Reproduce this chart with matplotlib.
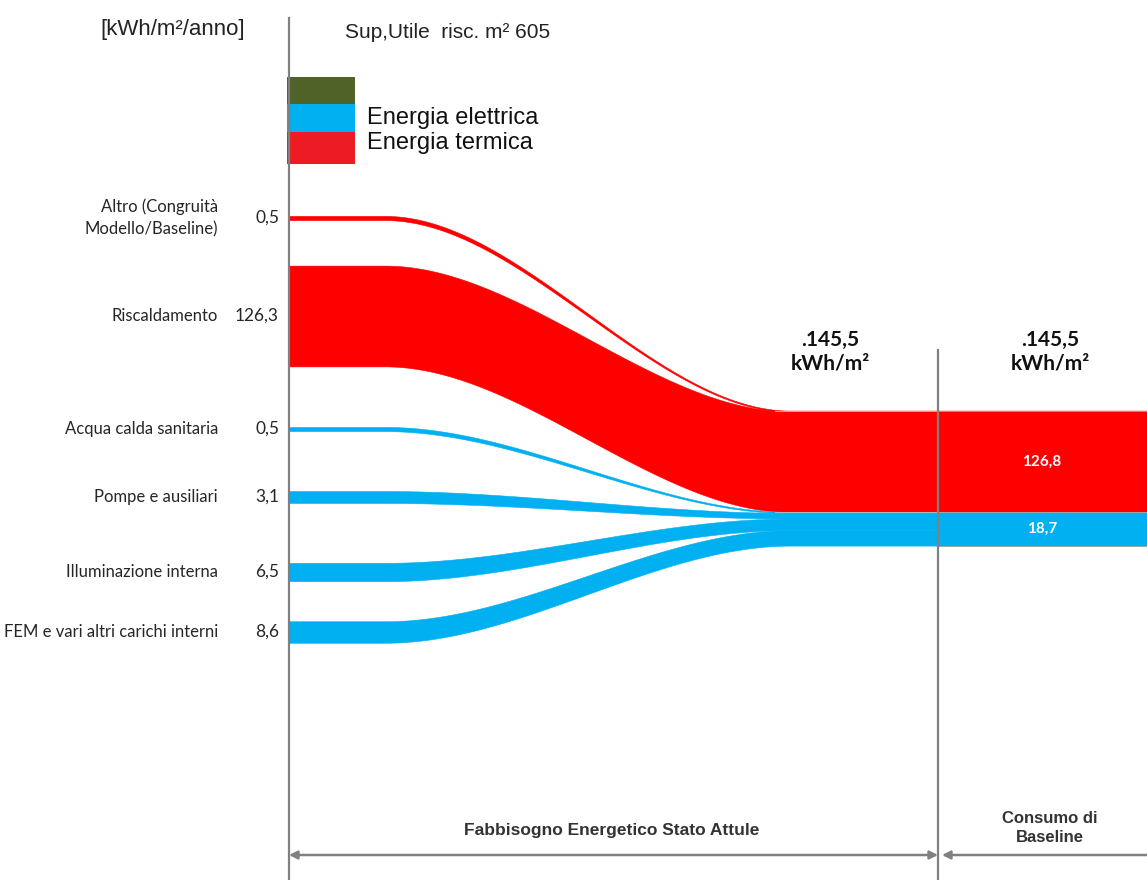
import numpy as np
import matplotlib.pyplot as plt
from matplotlib.patches import Rectangle

# ---- data ------------------------------------------------------------------
FLOW_LABELS = [
    "Altro (Congruità\nModello/Baseline)",
    "Riscaldamento",
    "Acqua calda sanitaria",
    "Pompe e ausiliari",
    "Illuminazione interna",
    "FEM e vari altri carichi interni",
]
FLOW_VALUES = [0.5, 126.3, 0.5, 3.1, 6.5, 8.6]
FLOW_CARRIER = ["termica", "termica", "elettrica", "elettrica", "elettrica", "elettrica"]

CARRIERS = ["termica", "elettrica"]
BASELINE_VALUES = [126.8, 18.7]

LEGEND_LABELS = ["", "Energia elettrica", "Energia termica"]

# ---- style / layout --------------------------------------------------------
RED = "#FF0000"
BLUE = "#00B0F0"
GREEN = "#4F6228"
LEG_RED = "#ED1C24"
GREY = "#808080"
CARRIER_COLOR = {"termica": RED, "elettrica": BLUE}

CAL = ["Lato", "DejaVu Sans"]          # stands in for Calibri
ARIAL = ["Liberation Sans", "DejaVu Sans"]
NARROW = ["Liberation Sans Narrow", "Liberation Sans", "DejaVu Sans"]

ROW_Y = [218, 316, 429, 497, 572, 632]   # row positions of the sources
X_AXIS, X_SPLIT, X_END = 289, 938, 1147
X_CURVE0, X_CURVE1 = 385, 790
BAND_TOP = 411


def fmt(v):
    return f"{v:.1f}".replace(".", ",")


def thick(v):
    # compressed band scale (the original chart is not proportional)
    return 101 * (v / max(BASELINE_VALUES)) ** 0.575


def main():
    fig = plt.figure(figsize=(11.47, 8.8), dpi=100)
    ax = fig.add_axes([0, 0, 1, 1])
    ax.set_xlim(0, 1147)
    ax.set_ylim(880, 0)
    ax.axis("off")

    # ---- flows -------------------------------------------------------------
    x = np.linspace(X_AXIS, X_END, 900)
    t = np.clip((x - X_CURVE0) / (X_CURVE1 - X_CURVE0), 0, 1)
    s = t * t * (3 - 2 * t)

    tops = {}
    top = BAND_TOP
    for c, bv in zip(CARRIERS, BASELINE_VALUES):
        tops[c] = top
        top += thick(bv)

    for c, bv in zip(CARRIERS, BASELINE_VALUES):
        members = [i for i, fc in enumerate(FLOW_CARRIER) if fc == c]
        total = sum(FLOW_VALUES[i] for i in members)
        gthick = thick(bv)
        cum = tops[c]
        for i in members:
            v = FLOW_VALUES[i]
            share = v / total * gthick
            y1 = cum + share / 2
            cum += share
            w0, w1 = thick(v), max(share, 1.2)
            yc = ROW_Y[i] + (y1 - ROW_Y[i]) * s
            w = w0 + (w1 - w0) * s
            ax.fill_between(x, yc - w / 2, yc + w / 2, color=CARRIER_COLOR[c],
                            lw=0.4, zorder=2)

    # ---- baseline column ---------------------------------------------------
    for c, bv in zip(CARRIERS, BASELINE_VALUES):
        h = thick(bv)
        ax.bar((X_SPLIT + X_END) / 2, h, bottom=tops[c], width=X_END - X_SPLIT,
               color=CARRIER_COLOR[c], edgecolor="#A6A6A6", lw=0.6, zorder=3)
        ax.text(1042, tops[c] + h / 2, fmt(bv), ha="center", va="center",
                color="white", fontweight="bold", fontsize=11, family=CAL, zorder=4)
        ax.plot([X_CURVE1 - 15, X_SPLIT], [tops[c]] * 2, color="#BFBFBF", lw=0.6, zorder=3)

    # ---- axes lines & arrows ----------------------------------------------
    ax.plot([X_AXIS, X_AXIS], [18, 880], color=GREY, lw=1.6, zorder=5)
    ax.plot([X_SPLIT, X_SPLIT], [350, 880], color=GREY, lw=1.6, zorder=5)
    ax.annotate("", xy=(X_AXIS, 855), xytext=(X_SPLIT, 855),
                arrowprops=dict(arrowstyle="<|-|>", color=GREY, lw=1.8,
                                shrinkA=0, shrinkB=0, mutation_scale=12))
    ax.annotate("", xy=(X_SPLIT + 4, 855), xytext=(X_END + 5, 855),
                arrowprops=dict(arrowstyle="-|>", color=GREY, lw=1.8,
                                shrinkA=0, shrinkB=0, mutation_scale=12))

    # ---- headers & legend --------------------------------------------------
    ax.text(173, 30, "[kWh/m²/anno]", ha="center", va="center", fontsize=16,
            family=ARIAL, color="#222222")
    ax.text(448, 33, "Sup,Utile  risc. m² 605", ha="center", va="center",
            fontsize=15, family=ARIAL, color="#222222")
    swatches = [(77, 27, GREEN), (104, 28, BLUE), (132, 32, LEG_RED)]
    for (y0, h, col), lab in zip(swatches, LEGEND_LABELS):
        ax.add_patch(Rectangle((287, y0), 68, h, color=col, lw=0, zorder=4))
    ax.text(367, 118, LEGEND_LABELS[1], ha="left", va="center", fontsize=17,
            family=ARIAL, color="#111111")
    ax.text(367, 143, LEGEND_LABELS[2], ha="left", va="center", fontsize=17,
            family=ARIAL, color="#111111")

    # ---- source labels -----------------------------------------------------
    for lab, v, y in zip(FLOW_LABELS, FLOW_VALUES, ROW_Y):
        ax.text(218, y, lab, ha="right", va="center", multialignment="right",
                fontsize=12, family=CAL, color="#262626", linespacing=1.5)
        ax.text(279, y, fmt(v), ha="right", va="center", fontsize=12.5,
                family=CAL, color="#262626")

    # ---- totals ------------------------------------------------------------
    total = sum(BASELINE_VALUES)
    for xc in (830, 1050):
        ax.text(xc, 352, "." + fmt(total) + "\nkWh/m²", ha="center", va="center",
                fontsize=15, fontweight="bold", family=CAL, color="#111111",
                linespacing=1.25)

    # ---- bottom captions ---------------------------------------------------
    ax.text(612, 830, "Fabbisogno Energetico Stato Attule", ha="center", va="center",
            fontsize=12.5, fontweight="bold", family=NARROW, color="#333333")
    ax.text(1050, 828, "Consumo di\nBaseline", ha="center", va="center",
            fontsize=12, fontweight="bold", family=NARROW, color="#333333",
            linespacing=1.3)

    fig.savefig("out.png", dpi=100, facecolor="white")


if __name__ == "__main__":
    main()
